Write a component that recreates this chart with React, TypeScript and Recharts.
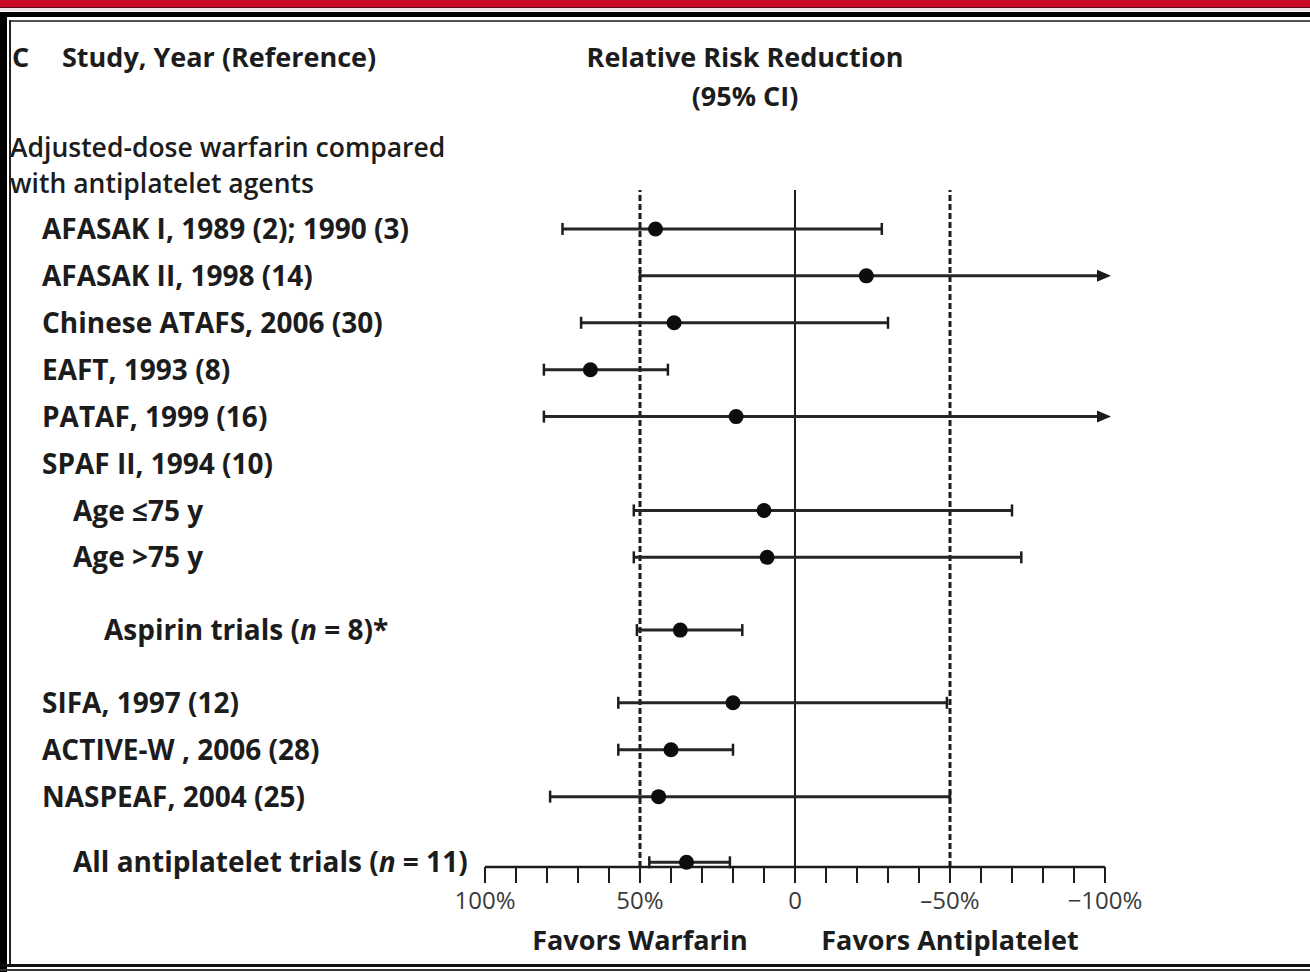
import React from "react";
import { ScatterChart, Scatter, XAxis, YAxis, ReferenceLine } from "recharts";

// forest plot: adjusted-dose warfarin vs antiplatelet agents
const studies = [
    "AFASAK I, 1989 (2); 1990 (3)",
    "AFASAK II, 1998 (14)",
    "Chinese ATAFS, 2006 (30)",
    "EAFT, 1993 (8)",
    "PATAF, 1999 (16)",
    "SPAF II, 1994 (10)",
    "Age \u226475 y",
    "Age >75 y",
    "Aspirin trials (n = 8)*",
    "SIFA, 1997 (12)",
    "ACTIVE-W , 2006 (28)",
    "NASPEAF, 2004 (25)",
    "All antiplatelet trials (n = 11)",
];
// nesting depth of each row (0 = study, 1 = subgroup / pooled, 2 = pooled subset)
const studyLevels = [0, 0, 0, 0, 0, 0, 1, 1, 2, 0, 0, 0, 1];
// row slot on the y scale (gaps before/after the pooled rows)
const rowSlots = [1, 2, 3, 4, 5, 6, 7, 8, 9.55, 11.1, 12.1, 13.1, 14.5];
// relative risk reduction, %
const pointEstimates = [45, -23, 39, 66, 19, null, 10, 9, 37, 20, 40, 44, 35];
const ciUpper = [75, 50, 69, 81, 81, null, 52, 52, 51, 57, 57, 79, 47];
const ciLower = [-28, -100, -30, 41, -100, null, -70, -73, 17, -49, 20, -50, 21];
// interval continues past the end of the axis
const ciBeyondAxis = [false, true, false, false, true, false, false, false, false, false, false, false, false];

const xTicks = [100, 90, 80, 70, 60, 50, 40, 30, 20, 10, 0, -10, -20, -30, -40, -50, -60, -70, -80, -90, -100];
const xTickLabels: Record<string, string> = {
    "100": "100%",
    "50": "50%",
    "0": "0",
    "-50": "\u201350%",
    "-100": "\u2212100%",
};

const FONT = '"Open Sans", "DejaVu Sans", sans-serif';
const INK = "#1c1c1c";

const data = studies
    .map((study, i) => ({
        study,
        row: rowSlots[i],
        rrr: pointEstimates[i],
        hi: ciUpper[i],
        lo: ciLower[i],
        arrow: ciBeyondAxis[i],
    }))
    .filter((d) => d.rrr !== null);

const StudyTick = (props: any) => {
    const { y, payload } = props;
    const i = rowSlots.indexOf(payload.value);
    if (i < 0) return null;
    const label = studies[i];
    const x = 42 + studyLevels[i] * 31;
    const m = label.match(/^(.*\()n( = .*)$/);
    return (
        <text x={x} y={y} dy="0.36em" fontFamily={FONT} fontWeight={700} fontSize={28} fill={INK} textAnchor="start">
            {m ? (
                <>
                    <tspan>{m[1]}</tspan>
                    <tspan fontStyle="italic">n</tspan>
                    <tspan>{m[2]}</tspan>
                </>
            ) : (
                label
            )}
        </text>
    );
};

const ciShape = (arrow: boolean) => (p: any) => {
    const { x1, y1, x2, y2 } = p;
    const left = Math.min(x1, x2);
    const right = Math.max(x1, x2);
    return (
        <g>
            <line x1={left} y1={y1} x2={arrow ? right - 2 : right} y2={y2} stroke="#262626" strokeWidth={3} />
            <line x1={left} y1={y1 - 6} x2={left} y2={y1 + 6} stroke={INK} strokeWidth={2.5} />
            {arrow ? (
                <polygon points={`${right - 8},${y1 - 6} ${right + 6},${y1} ${right - 8},${y1 + 6}`} fill={INK} />
            ) : (
                <line x1={right} y1={y1 - 6} x2={right} y2={y1 + 6} stroke={INK} strokeWidth={2.5} />
            )}
        </g>
    );
};

const Dot = (p: any) => <circle cx={p.cx} cy={p.cy} r={7.5} fill="#0d0d0d" />;

const XTick = (props: any) => {
    const { x, y, payload } = props;
    const label = xTickLabels[String(payload.value)];
    if (!label) return null;
    return (
        <text x={x} y={y} dy="0.71em" textAnchor="middle" fontFamily={FONT} fontSize={24} fill="#3a3a3a">
            {label}
        </text>
    );
};

const abs = (top: number, left: number, extra: React.CSSProperties = {}): React.CSSProperties => ({
    position: "absolute",
    top,
    left,
    fontFamily: FONT,
    fontWeight: 700,
    fontSize: 27,
    lineHeight: "30px",
    color: INK,
    whiteSpace: "nowrap",
    ...extra,
});

const favorsLabel = { position: "bottom" as const, offset: 64, fontFamily: FONT, fontWeight: 700, fontSize: 27, fill: INK };

export default function App() {
    return (
        <div style={{ position: "absolute", left: 0, top: 0, width: 1310, height: 972, background: "#fff", overflow: "hidden" }}>
            {/* page frame */}
            <div style={{ position: "absolute", left: 0, top: 0, width: 1310, height: 7, background: "#cc0a25" }} />
            <div style={{ position: "absolute", left: 0, top: 7, width: 1310, height: 1, background: "#5a0a14" }} />
            <div style={{ position: "absolute", left: 0, top: 8, width: 1310, height: 3, background: "#f3e3e7" }} />
            <div style={{ position: "absolute", left: 0, top: 12, width: 1310, height: 5, background: "#000" }} />
            <div style={{ position: "absolute", left: 9, top: 20, width: 1301, height: 2, background: "#555" }} />
            <div style={{ position: "absolute", left: 0, top: 12, width: 7, height: 960, background: "#000" }} />
            <div style={{ position: "absolute", left: 9, top: 20, width: 2, height: 946, background: "#222" }} />
            <div style={{ position: "absolute", left: 0, top: 964, width: 1310, height: 3, background: "#111" }} />
            <div style={{ position: "absolute", left: 0, top: 969, width: 1310, height: 2, background: "#333" }} />

            {/* headers */}
            <div style={abs(42, 12)}>C</div>
            <div style={abs(42, 62)}>Study, Year (Reference)</div>
            <div style={abs(42, 565, { width: 360, textAlign: "center" })}>Relative Risk Reduction</div>
            <div style={abs(81, 565, { width: 360, textAlign: "center" })}>(95% CI)</div>
            <div style={abs(132, 10, { fontWeight: 600, fontSize: 26.5 })}>Adjusted-dose warfarin compared</div>
            <div style={abs(168, 10, { fontWeight: 600, fontSize: 26.5 })}>with antiplatelet agents</div>

            <div style={{ position: "absolute", left: 0, top: 0 }}>
                <ScatterChart width={1310} height={972} margin={{ top: 190, right: 205, bottom: 0, left: 0 }}>
                    <XAxis
                        type="number"
                        dataKey="rrr"
                        domain={[-100, 100]}
                        reversed
                        ticks={xTicks}
                        interval={0}
                        height={105}
                        axisLine={{ stroke: INK, strokeWidth: 2.5 }}
                        tickLine={{ stroke: INK, strokeWidth: 2 }}
                        tickSize={16}
                        tickMargin={9}
                        tick={<XTick />}
                    />
                    <YAxis
                        type="number"
                        dataKey="row"
                        domain={[0.17, 14.6]}
                        reversed
                        ticks={rowSlots}
                        interval={0}
                        width={485}
                        axisLine={false}
                        tickLine={false}
                        tick={<StudyTick />}
                    />
                    <ReferenceLine
                        x={50}
                        stroke={INK}
                        strokeWidth={3}
                        strokeDasharray="6 3"
                        label={{ value: "Favors Warfarin", ...favorsLabel }}
                    />
                    <ReferenceLine
                        x={-50}
                        stroke={INK}
                        strokeWidth={3}
                        strokeDasharray="6 3"
                        label={{ value: "Favors Antiplatelet", ...favorsLabel }}
                    />
                    <ReferenceLine x={0} stroke={INK} strokeWidth={2} />
                    {data.map((d) => (
                        <ReferenceLine
                            key={d.study}
                            segment={[
                                { x: d.hi, y: d.row },
                                { x: d.lo, y: d.row },
                            ]}
                            shape={ciShape(d.arrow)}
                        />
                    ))}
                    <Scatter data={data} dataKey="rrr" shape={<Dot />} isAnimationActive={false} />
                </ScatterChart>
            </div>
        </div>
    );
}
